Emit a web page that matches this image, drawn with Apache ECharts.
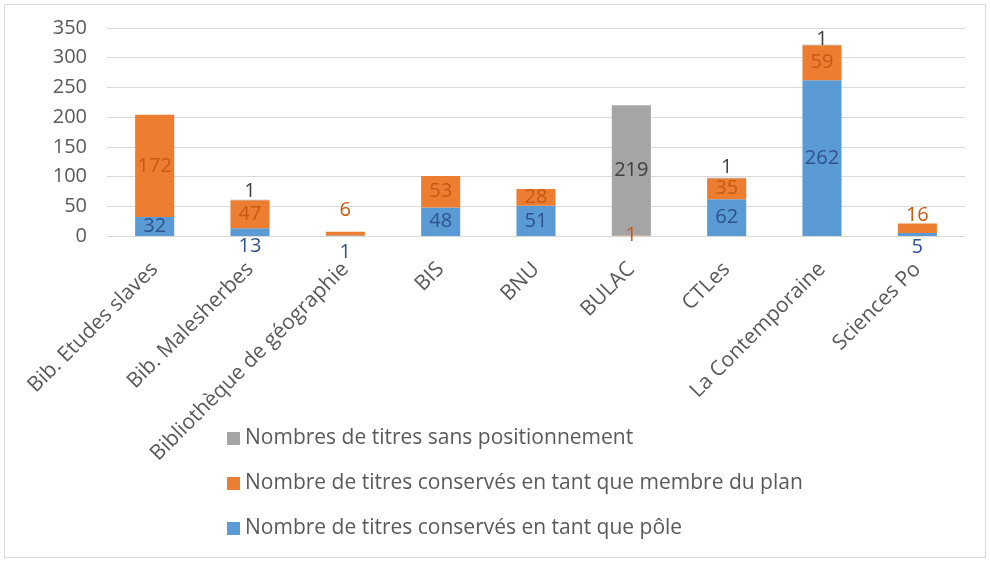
<!DOCTYPE html>
<html>
<head>
<meta charset="utf-8">
<script src="https://cdn.jsdelivr.net/npm/echarts@6/dist/echarts.min.js"></script>
<style>
  html, body { margin: 0; padding: 0; background: #fff; }
  #main { position: absolute; left: 4px; top: 4px; width: 980px; height: 552px; border: 1px solid #d9d9d9; }
</style>
</head>
<body>
<div id="main"></div>
<script>
  // catégories (bibliothèques)
  var categories = ['Bib. Etudes slaves', 'Bib. Malesherbes', 'Bibliothèque de géographie', 'BIS', 'BNU', 'BULAC', 'CTLes', 'La Contemporaine', 'Sciences Po'];
  // titres conservés en tant que pôle
  var poleValues = [32, 13, 1, 48, 51, null, 62, 262, 5];
  // titres conservés en tant que membre du plan
  var membreValues = [172, 47, 6, 53, 28, 1, 35, 59, 16];
  // titres sans positionnement
  var sansValues = [null, 1, null, null, null, 219, 1, 1, null];
  var yTicks = [0, 50, 100, 150, 200, 250, 300, 350];

  var font = 'Open Sans';

  // placement des étiquettes pour les petits segments (comme Excel)
  var poleLabelPos = { 1: ['bottom', 0], 2: ['bottom', 6], 8: ['bottom', 1] };
  var membreLabelPos = { 2: ['top', 12], 8: ['top', -2] };
  var sansLabelPos = { 1: ['top', -2], 6: ['top', 0], 7: ['top', -5] };

  function buildData(values, posMap) {
    return values.map(function (v, i) {
      var item = { value: v };
      if (posMap[i]) {
        item.label = { position: posMap[i][0], distance: posMap[i][1] };
      }
      return item;
    });
  }

  var myChart = echarts.init(document.getElementById('main'));
  var option = {
    animation: false,
    grid: {
      left: 102,
      right: 20,
      top: 23,
      bottom: 321,
      containLabel: false
    },
    legend: {
      orient: 'vertical',
      left: 217,
      top: 418,
      itemWidth: 13,
      itemHeight: 13,
      itemGap: 24,
      icon: 'rect',
      textStyle: { color: '#595959', fontSize: 21, fontFamily: font },
      data: ['Nombres de titres sans positionnement', 'Nombre de titres conservés en tant que membre du plan', 'Nombre de titres conservés en tant que pôle']
    },
    xAxis: {
      type: 'category',
      data: categories,
      axisLine: { show: true, lineStyle: { color: '#d9d9d9', width: 1 } },
      axisTick: { show: false },
      axisLabel: {
        rotate: 45,
        interval: 0,
        margin: 30,
        color: '#595959',
        fontSize: 21,
        fontFamily: font
      }
    },
    yAxis: {
      type: 'value',
      min: yTicks[0],
      max: yTicks[yTicks.length - 1],
      interval: 50,
      axisLine: { show: false },
      axisTick: { show: false },
      splitLine: { lineStyle: { color: '#d9d9d9', width: 1 } },
      axisLabel: {
        margin: 20,
        color: '#595959',
        fontSize: 20,
        fontFamily: font
      }
    },
    series: [
      {
        name: 'Nombre de titres conservés en tant que pôle',
        type: 'bar',
        stack: 'total',
        barWidth: '41%',
        itemStyle: { color: '#5b9bd5' },
        label: { show: true, position: 'inside', color: '#2f528f', fontSize: 20, fontFamily: font },
        data: buildData(poleValues, poleLabelPos)
      },
      {
        name: 'Nombre de titres conservés en tant que membre du plan',
        type: 'bar',
        stack: 'total',
        barWidth: '41%',
        itemStyle: { color: '#ed7d31' },
        label: { show: true, position: 'inside', color: '#c55a11', fontSize: 20, fontFamily: font },
        data: buildData(membreValues, membreLabelPos)
      },
      {
        name: 'Nombres de titres sans positionnement',
        type: 'bar',
        stack: 'total',
        barWidth: '41%',
        itemStyle: { color: '#a5a5a5' },
        label: { show: true, position: 'inside', color: '#404040', fontSize: 20, fontFamily: font },
        data: buildData(sansValues, sansLabelPos)
      }
    ]
  };
  myChart.setOption(option);
</script>
</body>
</html>
